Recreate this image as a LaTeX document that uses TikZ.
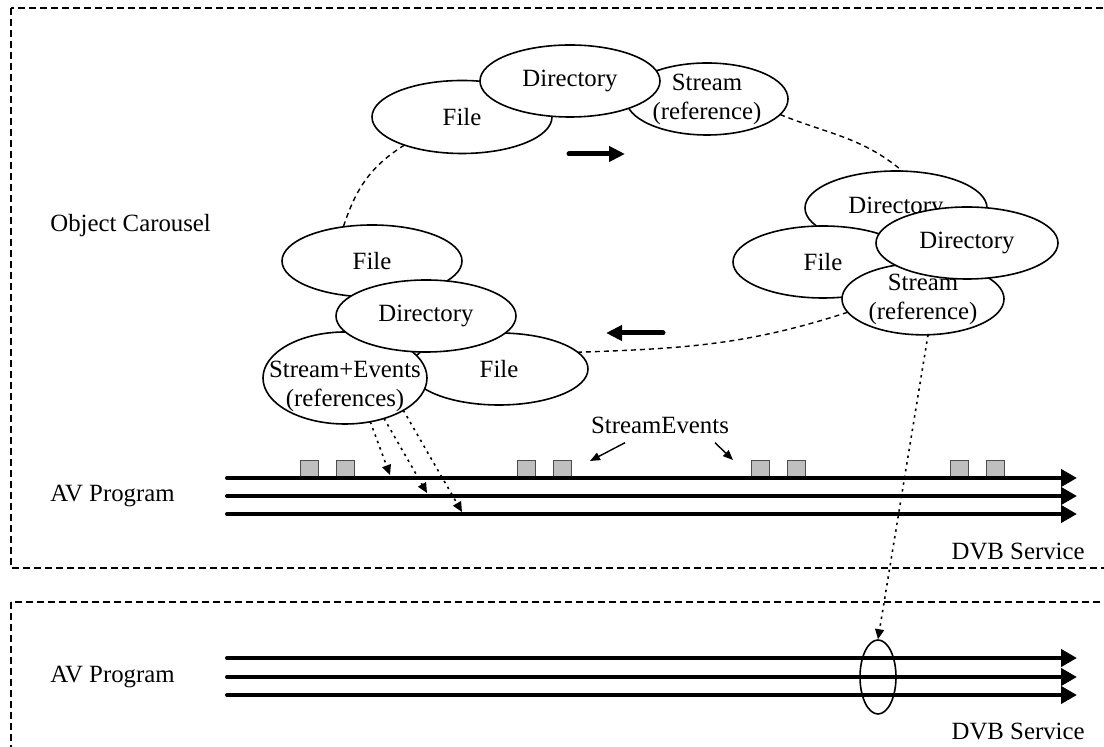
\documentclass[tikz,border=0pt]{standalone}
\usepackage{fontspec}
\setmainfont{Liberation Serif}
\usetikzlibrary{shapes.geometric,arrows.meta}

\tikzset{
  obj/.style={ellipse,draw,fill=white,line width=.8pt,inner sep=0pt,outer sep=0pt,
    minimum width=90pt,minimum height=36pt,align=center},
  ring/.style={line width=.7pt,dash pattern=on 2.5pt off 2pt},
  ref/.style={line width=.8pt,dash pattern=on 1.2pt off 2.2pt,-{Triangle[length=5pt,width=4.5pt]}},
  stream/.style={line width=2pt,line cap=round,-{Triangle[length=8pt,width=8.5pt]}},
  turn/.style={line width=2.5pt,line cap=round,-{Triangle[length=8pt,width=7.5pt]}},
  evarrow/.style={line width=.7pt,-{Triangle[length=5pt,width=4pt]}},
  evbox/.style={draw=black!70,fill=black!25,line width=.6pt,minimum size=9pt,
    inner sep=0pt,anchor=south west},
  region/.style={line width=1pt,dash pattern=on 3.5pt off 2pt}
}

\begin{document}
\begin{tikzpicture}[x=.5pt,y=-.5pt,font=\fontsize{12.4pt}{14.5pt}\selectfont]
\clip (0,0) rectangle (1104,747);
\draw[region] (11,8) rectangle (1130,568);
\draw[region] (11,602) rectangle (1130,770);

\node[anchor=west,inner sep=0pt] (oc) at (50,226) {Object Carousel};
\node[anchor=west,inner sep=0pt] (av1) at (50,496) {AV Program};
\node[anchor=west,inner sep=0pt] (av2) at (50,677) {AV Program};
\node[anchor=east,inner sep=0pt] (dvb1) at (1085,551) {DVB Service};
\node[anchor=east,inner sep=0pt] (dvb2) at (1085,731) {DVB Service};

% events and streams
\foreach \x[count=\i] in {300,336,517,553,751,787,950,986}
  \node[evbox] (ev\i) at (\x,479) {};
\foreach \y[count=\i] in {478,496,514,658,677,695}
  \coordinate (a\i) at (227,\y) coordinate (b\i) at (1077,\y);
\foreach \i in {1,...,6}
  \draw[stream] (a\i) -- (b\i);
\node[draw,ellipse,line width=.8pt,inner sep=0pt,minimum width=18pt,minimum height=37pt] (sel) at (878,677) {};

% carousel
\node[obj,minimum height=36.5pt] (f1) at (462,117) {File};
\node[obj,minimum width=81pt] (s1) at (707,99) {Stream\\(reference)};
\node[obj] (d1) at (570,81) {Directory};
\node[obj,minimum width=91pt,minimum height=37pt] (d2) at (896,208) {Directory};
\node[obj] (f2) at (823,262) {File};
\node[obj,minimum width=81pt,minimum height=34pt] (s2) at (923,299) {Stream\\(reference)};
\node[obj,minimum width=91pt] (d3) at (967,243) {Directory};
\node[obj] (f3) at (372,261) {File};
\node[obj,minimum width=89pt] (f4) at (499,369) {File};
\node[obj,minimum width=82pt,minimum height=46pt,
  label={[align=center,yshift=-4pt]center:{Stream+Events\\(references)}}] (se) at (345,378) {};
\node[obj] (d4) at (426,316) {Directory};

\draw[ring] (f1.206) to[out=212,in=72] (f3.130);
\draw[ring] (s1.-12) to[out=-22,in=140] (d2.80);
\draw[ring] (s2.190) to[out=198,in=2] (f4.12);

\coordinate (r1) at (569,154) coordinate (r2) at (625,154);
\coordinate (l1) at (663,333) coordinate (l2) at (606,333);
\draw[turn] (r1) -- (r2);
\draw[turn] (l1) -- (l2);

% references
\node[inner sep=1pt] (sev) at (660,425) {StreamEvents};
\coordinate (ea) at (590,461) coordinate (eb) at (733,460);
\draw[evarrow] ([shift={(-35,7)}]sev.south) -- (ea);
\draw[evarrow] ([shift={(55,7)}]sev.south) -- (eb);
\coordinate (t1) at (390,475) coordinate (t2) at (427,493) coordinate (t3) at (462,512);
\draw[ref] (se.-60) -- (t1);
\draw[ref] (se.-46) -- (t2);
\draw[ref] (se.-29) -- (t3);
\draw[ref] (s2.-82) -- (sel.north);
\end{tikzpicture}
\end{document}
